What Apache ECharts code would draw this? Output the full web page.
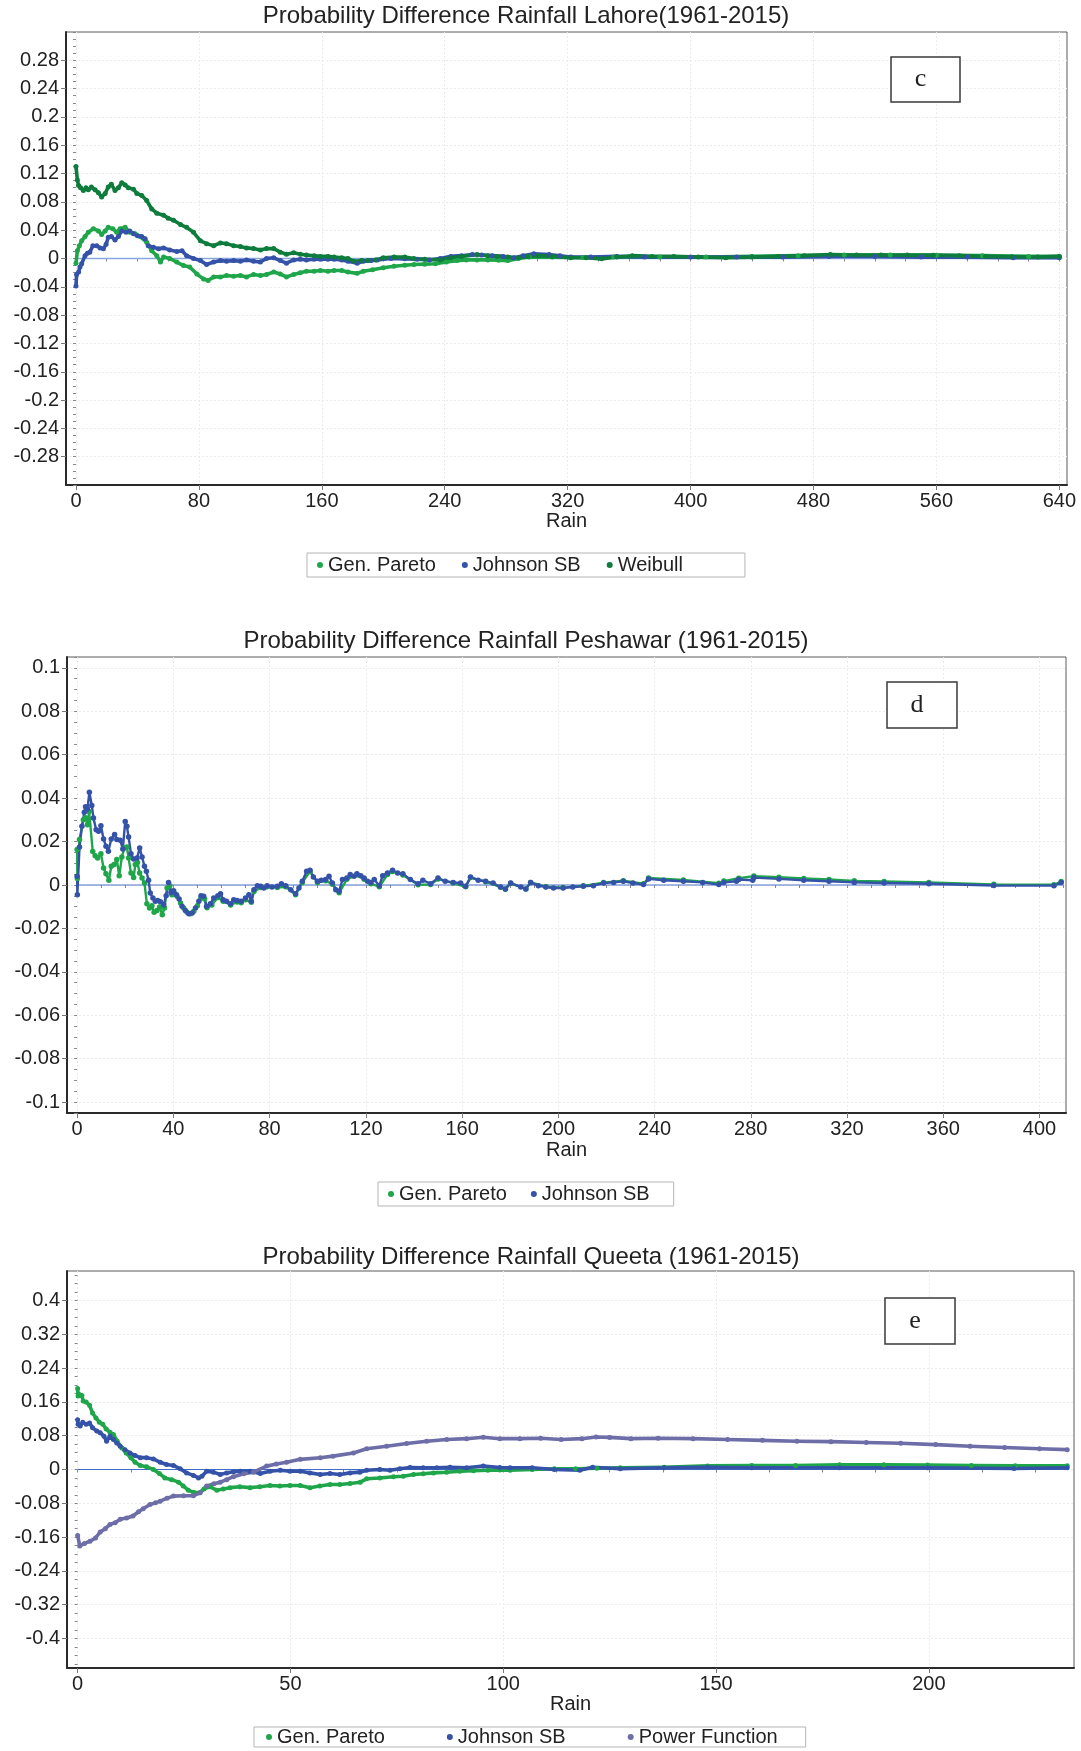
<!DOCTYPE html>
<html><head><meta charset="utf-8">
<script src="https://cdn.jsdelivr.net/npm/echarts@6/dist/echarts.min.js"></script>
<style>html,body{margin:0;padding:0;background:#fff;}#chart{width:1081px;height:1751px;}</style>
</head><body><div id="chart"></div>
<script>
// ---------------- DATA ----------------
const lahoreTitle = 'Probability Difference Rainfall Lahore(1961-2015)';
const peshawarTitle = 'Probability Difference Rainfall Peshawar (1961-2015)';
const queetaTitle = 'Probability Difference Rainfall Queeta (1961-2015)';
const xAxisName = 'Rain';

const lahoreXTicks = [0,80,160,240,320,400,480,560,640];
const lahoreYTicks = [-0.28,-0.24,-0.2,-0.16,-0.12,-0.08,-0.04,0,0.04,0.08,0.12,0.16,0.2,0.24,0.28];
const peshawarXTicks = [0,40,80,120,160,200,240,280,320,360,400];
const peshawarYTicks = [-0.1,-0.08,-0.06,-0.04,-0.02,0,0.02,0.04,0.06,0.08,0.1];
const queetaXTicks = [0,50,100,150,200];
const queetaYTicks = [-0.4,-0.32,-0.24,-0.16,-0.08,0,0.08,0.16,0.24,0.32,0.4];

const lahoreLegend = ['Gen. Pareto','Johnson SB','Weibull'];
const peshawarLegend = ['Gen. Pareto','Johnson SB'];
const queetaLegend = ['Gen. Pareto','Johnson SB','Power Function'];

const lahoreZero = [[0,0],[640,0]];
const peshawarZero = [[0,0],[410,0]];
const queetaZero = [[0,0],[232.5,0]];

const lahoreGenPareto = [[0,-0.0066],[0.9,0.011],[2.2,0.018],[3.7,0.025],[5.9,0.031],[8,0.037],[11.3,0.042],[14.6,0.039],[16.7,0.034],[19,0.039],[21,0.044],[24,0.042],[26.5,0.037],[28.7,0.042],[32,0.044],[35,0.037],[38.5,0.035],[41.7,0.031],[46,0.023],[49.3,0.011],[52.6,0.004],[55,-0.005],[57,0.002],[61,0],[65.6,-0.005],[70,-0.010],[74,-0.012],[78.7,-0.022],[83,-0.029],[86,-0.031],[89.6,-0.026],[94,-0.026],[98,-0.024],[102.6,-0.025],[107,-0.024],[111,-0.026],[115.6,-0.0225],[120,-0.024],[124,-0.0225],[128.7,-0.019],[133,-0.022],[137,-0.026],[141.7,-0.0225],[146,-0.020],[150,-0.018],[155,-0.018],[159,-0.017],[164,-0.018],[168,-0.017],[173,-0.017],[177,-0.019],[183,-0.021],[187,-0.018],[193,-0.016],[200,-0.013],[207,-0.011],[214,-0.0095],[220,-0.0085],[227,-0.008],[234,-0.0075],[241,-0.005],[248,-0.003],[254,-0.002],[261,-0.002],[268,-0.002],[275,-0.0025],[281,-0.003],[288,0],[295,0.002],[310,0.002],[330,0.0015],[350,0.002],[380,0.002],[410,0.002],[440,0.003],[470,0.004],[500,0.005],[530,0.005],[560,0.0045],[590,0.004],[620,0.003],[640,0.003]];
const lahoreJohnsonSB = [[0,-0.039],[0.4,-0.0225],[1.7,-0.019],[2.6,-0.012],[3.7,-0.0075],[5.9,0.004],[7.4,0.0075],[9,0.009],[11,0.018],[13.5,0.018],[15.7,0.015],[17.8,0.0136],[19.6,0.020],[21,0.030],[23,0.031],[25.4,0.026],[27.6,0.031],[29.8,0.039],[32.6,0.037],[35,0.039],[37.4,0.035],[40,0.032],[42.8,0.031],[45,0.028],[47,0.018],[50.4,0.016],[53.7,0.0136],[57,0.015],[61,0.012],[65.6,0.010],[69,0.011],[72,0.004],[76.5,0],[81,-0.003],[85,-0.0085],[89.6,-0.005],[94,-0.003],[98,-0.004],[102.6,-0.003],[107,-0.004],[111,-0.002],[115.6,-0.004],[120,-0.005],[124,0],[128.7,0.001],[133,-0.003],[137,-0.0066],[141.7,-0.002],[146,-0.001],[150,-0.002],[155,-0.001],[159,-0.001],[164,-0.001],[168,-0.001],[173,-0.002],[177,-0.004],[183,-0.0066],[187,-0.004],[192,-0.003],[196,-0.002],[205,0],[214,-0.0005],[222,-0.001],[230,-0.002],[237,0],[244,0.003],[251,0.004],[258,0.0056],[264,0.005],[271,0.004],[278,0.003],[285,0.001],[291,0.004],[298,0.0066],[308,0.0056],[315,0.004],[322,0.002],[335,0.002],[352,0.003],[370,0.002],[400,0.002],[430,0.002],[460,0.002],[490,0.003],[520,0.003],[550,0.002],[580,0.002],[610,0.001],[640,0.001]];
const lahoreWeibull = [[0,0.130],[0.9,0.111],[1.7,0.103],[3,0.100],[4.8,0.096],[6.5,0.100],[8,0.097],[10,0.101],[12.4,0.097],[14.6,0.093],[16.7,0.087],[19,0.092],[21,0.101],[23,0.105],[25.4,0.096],[27.6,0.100],[29.8,0.107],[32,0.104],[34,0.100],[37.4,0.098],[39.6,0.092],[42.8,0.089],[46,0.082],[49.3,0.070],[52.6,0.064],[57,0.061],[60,0.057],[63.5,0.054],[68,0.048],[72,0.044],[76.5,0.037],[81,0.025],[85,0.021],[89.6,0.018],[94,0.022],[98,0.021],[102.6,0.018],[107,0.017],[111,0.015],[115.6,0.014],[120,0.012],[124,0.014],[128.7,0.014],[133,0.009],[137,0.006],[141.7,0.008],[146,0.006],[150,0.005],[155,0.004],[159,0.003],[164,0.003],[168,0.002],[173,0.001],[177,0],[181,-0.004],[186,-0.003],[190,-0.003],[195,-0.002],[200,0.001],[207,0.002],[214,0.002],[220,0],[227,-0.001],[237,-0.002],[244,0.001],[251,0.003],[261,0.0056],[268,0.004],[274,0.003],[281,0.002],[288,0.001],[294,0.003],[301,0.004],[310,0.003],[322,0.001],[332,0.001],[342,-0.0005],[352,0.002],[362,0.004],[375,0.003],[389,0.003],[405,0.002],[423,0.001],[440,0.002],[457,0.003],[474,0.004],[491,0.0056],[508,0.005],[524,0.005],[541,0.0048],[558,0.0047],[575,0.004],[592,0.003],[609,0.0025],[626,0.002],[640,0.003]];

const peshawarGenPareto = [[0,0.0163],[0.1,0.003],[1,0.021],[2.6,0.030],[3.5,0.031],[4.3,0.0277],[5,0.0338],[6.5,0.0154],[7.5,0.0135],[8.5,0.0124],[9.9,0.0144],[11,0.0078],[12,0.0052],[13.2,0.0022],[14.2,0.0086],[15.4,0.0094],[16.5,0.0117],[17.5,0.0043],[18.6,0.0129],[19.6,0.017],[20.7,0.0175],[21.4,0.0124],[22.4,0.0055],[23.5,0.0035],[24.2,0.0094],[25.1,0.0104],[26,0.0055],[27,0.0032],[28,0.0009],[29,-0.0086],[30.1,-0.0106],[31.1,-0.0095],[32,-0.0126],[33.2,-0.0117],[34.3,-0.0101],[35.4,-0.0137],[36.3,-0.0106],[37.4,-0.0014],[38.5,-0.0003],[39.4,-0.0045],[40.4,-0.0037],[41.5,-0.0052],[43,-0.0083],[44.3,-0.0106],[45.7,-0.0126],[47.1,-0.0132],[48.5,-0.0121],[50,-0.0095],[51.5,-0.006],[53,-0.0065],[54,-0.0105],[56,-0.0092],[58.5,-0.0058],[60.7,-0.0075],[63.8,-0.0092],[66.5,-0.0078],[68.2,-0.0082],[70,-0.0068],[72.4,-0.008],[73.5,-0.003],[76.3,-0.0012],[79,-0.0008],[83.2,-0.0012],[86.7,-0.0008],[90.8,-0.0045],[93.6,0.0012],[96.8,0.0062],[99.9,0.0012],[103.3,0.002],[106.1,0.0004],[108.9,-0.0036],[112.1,0.0026],[116.3,0.0046],[119.3,0.0026],[122.1,0.0006],[125.6,-0.0008],[129,0.0048],[131.1,0.0062],[135.4,0.0046],[141.7,0.0001],[146.9,0.0002],[150,0.0028],[156.3,0.0009],[161.5,-0.0008],[163.5,0.0034],[169.8,0.0015],[176,-0.001],[178,-0.0019],[180.2,0.0008],[186.5,-0.0018],[188.5,0.0012],[194.8,-0.0008],[202,-0.0012],[210.4,-0.0004],[218.8,0.0011],[227,0.002],[235.4,0.0006],[237.5,0.0032],[252,0.0023],[266.7,0.0008],[268.8,0.0018],[275,0.0031],[281.3,0.0041],[291.7,0.0036],[302,0.003],[312.5,0.0025],[323,0.0019],[335.4,0.0016],[354,0.0012],[381,0.0003],[406,0.0001],[409,0.0016]];
const peshawarJohnsonSB = [[0,0.004],[0.1,-0.0045],[1,0.0175],[2,0.027],[3,0.0335],[3.5,0.036],[4.3,0.035],[5.1,0.0427],[6.1,0.0366],[6.8,0.0309],[7.9,0.0255],[8.9,0.0247],[9.9,0.0273],[11,0.0212],[12,0.0178],[13,0.0155],[14.2,0.0212],[15.6,0.0232],[16.5,0.0209],[17.9,0.0206],[19,0.0166],[20,0.0293],[20.7,0.027],[21.4,0.0221],[22.4,0.0144],[23.5,0.012],[24.9,0.0124],[26,0.017],[27,0.0129],[28,0.0086],[28.8,0.0063],[29.7,0.0022],[30.4,-0.0037],[31.5,-0.006],[32.5,-0.0075],[33.5,-0.0071],[34.6,-0.0077],[36,-0.0091],[37,-0.0049],[38,0.0012],[39,-0.0034],[40.1,-0.0026],[41.3,-0.0045],[42.4,-0.0065],[43.6,-0.0098],[45,-0.0117],[46.4,-0.0132],[47.8,-0.0129],[49.2,-0.0106],[50.6,-0.0075],[51.5,-0.0049],[52.6,-0.0052],[53.8,-0.0098],[55.4,-0.0086],[56.8,-0.006],[58.5,-0.0049],[59.6,-0.004],[60.7,-0.0068],[62.1,-0.0075],[63.8,-0.0086],[65.1,-0.0068],[66.5,-0.0071],[68.2,-0.0075],[70,-0.006],[71.4,-0.0045],[72.4,-0.0075],[73.5,-0.0022],[74.9,-0.0003],[76.3,-0.0006],[77.6,-0.0014],[79,-0.0003],[81,-0.0009],[83.2,-0.0006],[84.9,0.0006],[86.7,-0.0003],[88.8,-0.0022],[90.8,-0.004],[92.2,-0.0014],[93.6,0.0017],[95.4,0.0063],[96.8,0.0068],[98.2,0.0037],[99.9,0.0017],[101.5,0.0022],[103.3,0.0025],[104.7,0.004],[106.1,0.0009],[107.5,-0.0022],[108.9,-0.0029],[110.3,0.0025],[112.1,0.0032],[113.5,0.0048],[115.1,0.004],[116.3,0.0052],[117.9,0.0043],[119.3,0.0032],[120.7,0.0017],[122.1,0.0012],[123.5,0.0025],[125.6,-0.0003],[127,0.0043],[129,0.0055],[131.1,0.0068],[133.2,0.0055],[135.4,0.0052],[138.5,0.0025],[141.7,0.0006],[143.7,0.0022],[146.9,0.0006],[150,0.0032],[153,0.0017],[156.3,0.0012],[159.4,0.0009],[161.5,-0.0006],[163.5,0.0037],[166.7,0.0022],[169.8,0.0017],[172.9,0.0009],[176,-0.0009],[178,-0.0018],[180.2,0.0009],[184.4,-0.0009],[186.5,-0.0018],[188.5,0.0012],[191.7,-0.0003],[194.8,-0.0009],[198,-0.0014],[202,-0.0014],[206,-0.0009],[210.4,-0.0006],[214.6,-0.0003],[218.8,0.0009],[223,0.0012],[227,0.0017],[231,0.0009],[235.4,0.0002],[237.5,0.0028],[243.8,0.0022],[252,0.0017],[260,0.0012],[266.7,0.0002],[268.8,0.0012],[274,0.0017],[275,0.0025],[280.8,0.0022],[281.3,0.0034],[291.7,0.0028],[302,0.0022],[312.5,0.0017],[323,0.0012],[335.4,0.0009],[354,0.0006],[381,-0.0002],[406,-0.0003],[409,0.0012]];

const queetaGenPareto = [[0,0.192],[0.1,0.174],[0.3,0.178],[1,0.175],[1.3,0.162],[2,0.16],[2.8,0.152],[3.5,0.134],[4.3,0.122],[5.1,0.112],[5.9,0.107],[6.7,0.096],[7.6,0.088],[8.4,0.083],[9.3,0.067],[10.4,0.051],[11.4,0.039],[12.5,0.028],[13.5,0.017],[14.7,0.0095],[16.2,0.0063],[17.8,0],[19.2,-0.0095],[20.5,-0.02],[22.1,-0.024],[23.7,-0.03],[24.8,-0.039],[26,-0.049],[27.2,-0.054],[28.6,-0.055],[29.7,-0.046],[31.1,-0.041],[32.7,-0.049],[34.2,-0.046],[35.8,-0.043],[38.1,-0.041],[40.5,-0.043],[42.8,-0.041],[45.2,-0.038],[47.5,-0.039],[49.9,-0.038],[52.3,-0.038],[54.6,-0.043],[56.9,-0.039],[59.3,-0.0355],[61.6,-0.0355],[64,-0.033],[66.4,-0.03],[67.9,-0.022],[71,-0.02],[74.2,-0.017],[76.5,-0.016],[78.9,-0.012],[81.2,-0.01],[83.6,-0.008],[86.7,-0.0065],[89.8,-0.004],[93,-0.003],[96.4,-0.0016],[99.2,-0.001],[101.6,-0.0016],[106.8,0],[112,0.0016],[117,0.0016],[122,0.003],[127.5,0.004],[137.8,0.0055],[148,0.0085],[158.4,0.0095],[168.7,0.0095],[179,0.011],[189.4,0.011],[199.7,0.0105],[210,0.0095],[220.3,0.009],[232.5,0.009]];
const queetaJohnsonSB = [[0,0.118],[0.1,0.107],[0.6,0.103],[1.2,0.112],[2,0.107],[2.8,0.11],[3.5,0.099],[4.5,0.091],[5.3,0.087],[6.2,0.079],[6.8,0.067],[7.6,0.079],[8.4,0.071],[9.2,0.063],[10,0.055],[11.1,0.047],[12.3,0.039],[13.5,0.033],[14.7,0.028],[16.2,0.028],[17.8,0.025],[19.4,0.017],[20.9,0.012],[22.5,0.0095],[24.1,0.0016],[25.6,-0.008],[27.2,-0.014],[28.4,-0.02],[29.2,-0.016],[30.3,-0.004],[31.9,-0.0063],[33.5,-0.012],[35,-0.008],[36.6,-0.0055],[38.2,-0.004],[40.5,-0.004],[42.9,-0.0095],[45.2,-0.004],[47.6,-0.0016],[49.9,-0.004],[52.3,-0.004],[54.6,-0.008],[57,-0.012],[59.3,-0.0095],[61.6,-0.012],[64,-0.008],[66.3,-0.0063],[67.9,-0.0016],[71,0],[73.4,-0.0016],[75.7,0.0016],[78.1,0.0047],[81.2,0.004],[84.4,0.004],[87.5,0.0055],[91.4,0.004],[95.3,0.008],[99.2,0.0047],[101.6,0.004],[106.8,0.004],[112,0],[118,-0.0016],[121,0.0055],[127.5,0.0016],[137.8,0.004],[148,0.0055],[158.4,0.004],[179,0.004],[199.7,0.004],[220,0.0024],[232.5,0.004]];
const queetaPowerFunction = [[0,-0.156],[0.5,-0.181],[1.6,-0.175],[2.9,-0.17],[4.2,-0.162],[5.3,-0.148],[6.5,-0.14],[7.6,-0.13],[8.8,-0.126],[10,-0.118],[11.5,-0.115],[13,-0.11],[14.3,-0.1],[15.4,-0.093],[17,-0.083],[18.3,-0.079],[19.4,-0.075],[21,-0.068],[22.5,-0.063],[24.9,-0.062],[27.2,-0.062],[28.8,-0.055],[30.3,-0.039],[32,-0.034],[33.5,-0.03],[35,-0.024],[36.6,-0.017],[39,-0.01],[41.3,-0.0063],[44.4,0.008],[46.7,0.013],[49.1,0.017],[52.3,0.024],[57,0.028],[60,0.0316],[64.8,0.039],[67.9,0.049],[72.6,0.055],[77.3,0.0615],[82,0.067],[86.7,0.071],[91.4,0.073],[95.3,0.0765],[99.2,0.073],[103.9,0.073],[108.8,0.074],[113.6,0.071],[118.5,0.073],[121.8,0.077],[125,0.076],[130,0.073],[136.4,0.074],[144.6,0.073],[152.7,0.071],[160.9,0.069],[169,0.067],[177,0.066],[185.3,0.064],[193.4,0.062],[201.6,0.059],[209.7,0.055],[217.8,0.052],[226,0.049],[232.5,0.047]];

// ---------------- STYLE / LAYOUT ----------------
const FONT = '"Liberation Sans", Arial, Helvetica, sans-serif';
const TXT = '#222';
const COLORS = {'Gen. Pareto':'#1fa64a','Johnson SB':'#3452a8','Weibull':'#0e7c3c','Power Function':'#6d6da8'};
const fmt = v => String(+(+v).toFixed(4));

const panels = [
  {grid:{left:66,top:32,width:1001,height:453}, x:[-6.5,645], y:[-0.32,0.32], xTicks:lahoreXTicks, yTicks:lahoreYTicks, xMinor:20, yMinor:0.01, nameGap:25,
   title:lahoreTitle, titlePos:[526,16], zero:lahoreZero, zeroColor:'#8aa6dd', zeroWidth:1.5, lw:3.6, ss:5,
   series:[['Gen. Pareto',lahoreGenPareto],['Johnson SB',lahoreJohnsonSB],['Weibull',lahoreWeibull]],
   legend:{data:lahoreLegend, left:307, top:553, itemGap:26, padding:[2,62,2,10]},
   tag:{t:'c', x:891, y:57, w:69, h:45}},
  {grid:{left:67,top:657,width:999,height:456}, x:[-4.2,411], y:[-0.105,0.105], xTicks:peshawarXTicks, yTicks:peshawarYTicks, xMinor:10, yMinor:0.005, nameGap:27,
   title:peshawarTitle, titlePos:[526,641], zero:peshawarZero, zeroColor:'#4a72c8', zeroWidth:1, lw:2.4, ss:5.5,
   series:[['Gen. Pareto',peshawarGenPareto],['Johnson SB',peshawarJohnsonSB]],
   legend:{data:peshawarLegend, left:378, top:1182, itemGap:24, padding:[2,24,2,10]},
   tag:{t:'d', x:887, y:682, w:70, h:46}},
  {grid:{left:67,top:1271,width:1007,height:397}, x:[-2.5,234.1], y:[-0.47,0.47], xTicks:queetaXTicks, yTicks:queetaYTicks, xMinor:12.5, yMinor:0.02, nameGap:24,
   title:queetaTitle, titlePos:[531,1257], zero:queetaZero, zeroColor:'#3d6cc8', zeroWidth:1, lw:3.6, ss:5,
   series:[['Gen. Pareto',queetaGenPareto],['Johnson SB',queetaJohnsonSB],['Power Function',queetaPowerFunction]],
   legend:{data:queetaLegend, left:254, top:1727, itemGap:62, padding:[0,28,0,12]},
   tag:{t:'e', x:885, y:1298, w:70, h:46}}
];

function minorList(min, max, step){
  const out=[]; for(let k=Math.ceil(min/step-1e-9); k*step<=max+1e-9; k++) out.push(+(k*step).toFixed(6)); return out;
}

const grid=[], xAxis=[], yAxis=[], series=[], legend=[], graphic=[];
panels.forEach((p,i)=>{
  grid.push(Object.assign({show:true, borderColor:'#5a5a5a', borderWidth:1, backgroundColor:'#fff'}, p.grid));
  const splitLine = {show:true, lineStyle:{color:'#ebebeb', type:[2,2], width:1}};
  xAxis.push({gridIndex:i, type:'value', min:p.x[0], max:p.x[1], position:'bottom',
    axisLine:{show:true, onZero:false, lineStyle:{color:'#2a2a2a', width:2}},
    axisTick:{show:true, customValues:p.xTicks, length:5, lineStyle:{color:'#777'}},
    axisLabel:{customValues:p.xTicks, formatter:fmt, fontSize:20, color:TXT, fontFamily:FONT, margin:6},
    splitLine:splitLine,
    name:xAxisName, nameLocation:'middle', nameGap:p.nameGap, nameTextStyle:{fontSize:20, color:TXT, fontFamily:FONT}});
  xAxis.push({gridIndex:i, type:'value', min:p.x[0], max:p.x[1], position:'bottom',
    axisLine:{show:false}, axisLabel:{show:false}, splitLine:{show:false},
    axisTick:{show:true, customValues:minorList(p.x[0],p.x[1],p.xMinor), length:3, lineStyle:{color:'#888'}}});
  yAxis.push({gridIndex:i, type:'value', min:p.y[0], max:p.y[1], position:'left',
    axisLine:{show:true, onZero:false, lineStyle:{color:'#2a2a2a', width:2}},
    axisTick:{show:true, customValues:p.yTicks, length:5, lineStyle:{color:'#777'}},
    axisLabel:{customValues:p.yTicks, formatter:fmt, fontSize:20, color:TXT, fontFamily:FONT, margin:7},
    splitLine:splitLine});
  yAxis.push({gridIndex:i, type:'value', min:p.y[0], max:p.y[1], position:'left',
    axisLine:{show:false}, axisLabel:{show:false}, splitLine:{show:false},
    axisTick:{show:true, customValues:minorList(p.y[0],p.y[1],p.yMinor), length:3, lineStyle:{color:'#888'}}});
  series.push({type:'line', name:'zero'+i, xAxisIndex:2*i, yAxisIndex:2*i, data:p.zero, showSymbol:false, silent:true,
    lineStyle:{color:p.zeroColor, width:p.zeroWidth}, z:1});
  p.series.forEach(([name,data])=>{
    series.push({type:'line', name:name, xAxisIndex:2*i, yAxisIndex:2*i, data:data,
      symbol:'circle', symbolSize:p.ss, showSymbol:true, showAllSymbol:true,
      itemStyle:{color:COLORS[name]}, lineStyle:{color:COLORS[name], width:p.lw, join:'round', cap:'round'}, z:3});
  });
  legend.push({data:p.legend.data, left:p.legend.left, top:p.legend.top, orient:'horizontal', icon:'circle',
    itemWidth:6, itemHeight:6, itemGap:p.legend.itemGap, padding:p.legend.padding, selectedMode:false,
    borderColor:'#b5b5b5', borderWidth:1, backgroundColor:'#fff',
    textStyle:{fontSize:20, color:TXT, fontFamily:FONT}});
  graphic.push({type:'text', x:p.titlePos[0], y:p.titlePos[1], z:100,
    style:{text:p.title, font:'24px '+FONT, fill:TXT, textAlign:'center', textVerticalAlign:'middle'}});
  graphic.push({type:'rect', z:100, shape:{x:p.tag.x, y:p.tag.y, width:p.tag.w, height:p.tag.h},
    style:{fill:'#fff', stroke:'#3a3a3a', lineWidth:1.5}});
  graphic.push({type:'text', z:101, x:p.tag.x+p.tag.w/2-5, y:p.tag.y+p.tag.h/2,
    style:{text:p.tag.t, font:'26px "Liberation Serif", "Times New Roman", serif', fill:TXT, textAlign:'center', textVerticalAlign:'middle'}});
});

const chart = echarts.init(document.getElementById('chart'), null, {renderer:'canvas'});
chart.setOption({animation:false, backgroundColor:'#fff', grid, xAxis, yAxis, series, legend, graphic});
</script></body></html>
